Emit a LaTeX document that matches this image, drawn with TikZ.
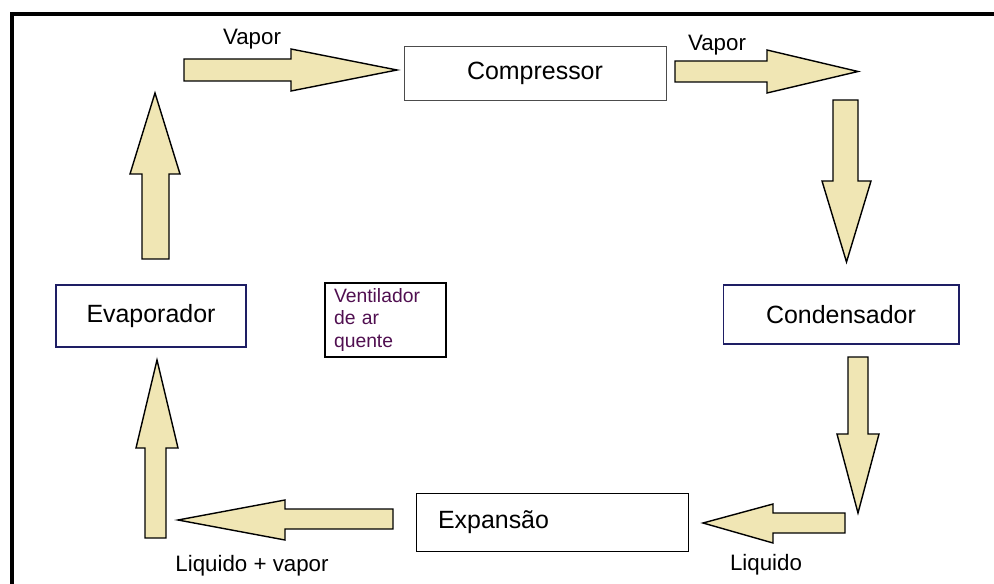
\documentclass[tikz,border=0pt]{standalone}
\usepackage{fontspec}
\setmainfont{Liberation Sans}
\definecolor{creme}{RGB}{240,230,180}
\definecolor{marinho}{RGB}{30,30,100}
\definecolor{roxo}{RGB}{80,15,80}
\tikzset{
  caixa/.style={draw, thin, inner sep=0pt, font=\fontsize{14.2}{17}\selectfont},
  seta/.style={draw=black, thick, fill=creme, line join=miter},
  rotulo/.style={font=\fontsize{12.7}{15}\selectfont}
}
\begin{document}
\begin{tikzpicture}[x=0.02cm, y=-0.02cm]
    \useasboundingbox (0,0) rectangle (994,584);
    % Frame
    \draw[line width=0.08cm] (994,14) -- (12,14) -- (12,584);

    % Components
    \node[caixa, draw=black!70, minimum width=5.24cm, minimum height=1.08cm] (comp) at (535,73) {Compressor};
    \node[caixa, semithick, draw=marinho, minimum width=4.72cm, minimum height=1.18cm] (cond) at (841,314.5) {Condensador};
    \node[caixa, draw=black, minimum width=5.44cm, minimum height=1.16cm, inner xsep=0.44cm, text width=4.56cm, align=left] (exp) at (552,522) {\raisebox{-0.08cm}{Expans\~ao}};
    \node[caixa, semithick, draw=marinho, minimum width=3.8cm, minimum height=1.24cm] (evap) at (151,316) {Evaporador};
    \node[draw, thick, inner sep=0pt, inner xsep=0.18cm, minimum width=2.42cm, minimum height=1.48cm, text width=2.06cm, align=left, text=roxo, font=\fontsize{11}{13}\selectfont] (vent) at (385.5,320) {Ventilador\\de ar\\quente};

    % Arrows
    \draw[seta] (184,59) -- (291,59) -- (291,49) -- (397,70) -- (291,91) -- (291,81) -- (184,81) -- cycle;
    \draw[seta] (675,61) -- (767,61) -- (767,50) -- (858,71.5) -- (767,93) -- (767,82) -- (675,82) -- cycle;
    \draw[seta] (833,100) -- (858,100) -- (858,181) -- (871,181) -- (846.5,262) -- (822,181) -- (833,181) -- cycle;
    \draw[seta] (848,357) -- (868,357) -- (868,434) -- (879,434) -- (858,513) -- (837,434) -- (848,434) -- cycle;
    \draw[seta] (845,513) -- (773,513) -- (773,504) -- (703,523) -- (773,543) -- (773,533) -- (845,533) -- cycle;
    \draw[seta] (393,509) -- (285,509) -- (285,500) -- (178,520) -- (285,540) -- (285,529) -- (393,529) -- cycle;
    \draw[seta] (145,538) -- (145,448) -- (136,448) -- (157,360) -- (178,448) -- (166,448) -- (166,538) -- cycle;
    \draw[seta] (142,259) -- (142,174) -- (130,174) -- (155,93) -- (180,174) -- (169,174) -- (169,259) -- cycle;

    % Labels
    \node[rotulo] (v1) at (252,39) {Vapor};
    \node[rotulo] (v2) at (717,45) {Vapor};
    \node[rotulo] (lv) at (252,566) {Liquido + vapor};
    \node[rotulo] (lq) at (766,565) {Liquido};
\end{tikzpicture}
\end{document}
